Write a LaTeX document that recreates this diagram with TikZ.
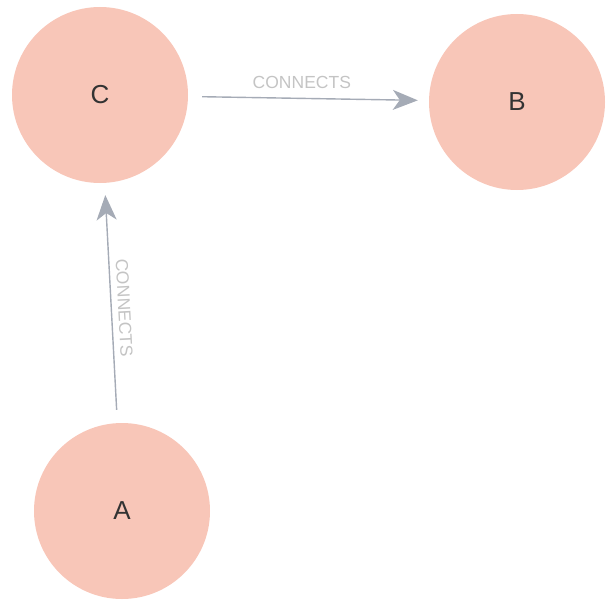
\documentclass[tikz,border=0pt]{standalone}
\usepackage{fontspec}
\setmainfont{Liberation Sans}
\usetikzlibrary{arrows.meta}
\definecolor{nodefill}{HTML}{F8C6B8}
\definecolor{edgecol}{HTML}{A5ABB6}
\definecolor{lblcol}{HTML}{C4C4C4}
\begin{document}
\begin{tikzpicture}[x=1pt,y=-1pt,
  circ/.style={circle,fill=nodefill,draw=none,minimum size=176pt,inner sep=0pt,font=\fontsize{26}{30}\selectfont,text=black!80},
  rel/.style={draw=edgecol,line width=1.4pt,-{Stealth[length=25pt,width=20pt,inset=7pt]}},
  lbl/.style={font=\fontsize{17.5}{20}\selectfont,text=lblcol,inner sep=0pt}]
\useasboundingbox (0,0) rectangle (609,599);
\node[circ] (C) at (100,95) {C};
\node[circ] (B) at (517,102) {B};
\node[circ] (A) at (122,511) {A};
\draw[rel,shorten <=14pt,shorten >=11pt] (C) -- (B);
\draw[rel,shorten <=13pt,shorten >=12pt] (A) -- (C);
\path (C.center) -- (B.center) coordinate[pos=0.484] (m1);
\path (A.center) -- (C.center) coordinate[pos=0.488] (m2);
\node[lbl] (l1) at ([yshift=16pt]m1) {CONNECTS};
\node[lbl,rotate=-87] (l2) at ([xshift=13pt]m2) {CONNECTS};
\end{tikzpicture}
\end{document}
